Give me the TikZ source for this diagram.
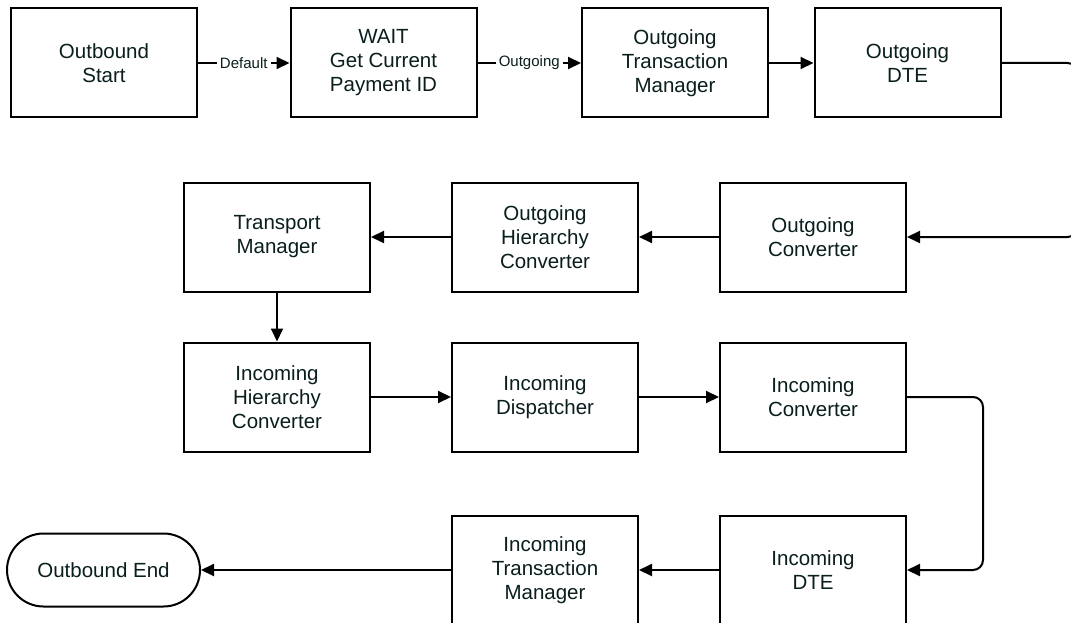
\documentclass[tikz,border=0pt]{standalone}
\usepackage{fontspec}
\setmainfont{Liberation Sans}
\usetikzlibrary{arrows.meta}
\definecolor{txt}{HTML}{0A1E1E}
\begin{document}
\begin{tikzpicture}[x=1pt,y=-1pt,
  stepbox/.style={draw=black, line width=2pt, minimum width=186pt, minimum height=109pt,
    inner sep=0pt, align=center, text=txt, font=\fontsize{20.5}{24}\selectfont},
  endbox/.style={stepbox, minimum width=193pt, minimum height=73pt, rounded corners=36.5pt},
  flow/.style={draw=black, line width=2pt, -{Triangle[length=13pt,width=12pt]}},
  lbl/.style={fill=white, inner xsep=3pt, inner ysep=1pt, text=txt, font=\fontsize{15}{18}\selectfont}]
\clip (0,0) rectangle (1071,623);
\fill[white] (0,0) rectangle (1071,623);

% first row
\node[stepbox] (ostart) at (104,63) {Outbound\\Start};
\node[stepbox] (wait) at (383.5,63) {WAIT\\Get Current\\Payment ID};
\node[stepbox] (otm) at (675,63) {Outgoing\\Transaction\\Manager};
\node[stepbox] (odte) at (907.5,63) {Outgoing\\DTE};

% second row
\node[stepbox] (oconv) at (813,237) {Outgoing\\Converter};
\node[stepbox] (ohier) at (545,237) {Outgoing\\Hierarchy\\Converter};
\node[stepbox] (tman) at (277,237) {Transport\\Manager};

% third row
\node[stepbox] (ihier) at (277,397) {Incoming\\Hierarchy\\Converter};
\node[stepbox] (idisp) at (545,397) {Incoming\\Dispatcher};
\node[stepbox] (iconv) at (813,397) {Incoming\\Converter};

% fourth row
\node[stepbox] (idte) at (813,570) {Incoming\\DTE};
\node[stepbox] (itm) at (545,570) {Incoming\\Transaction\\Manager};
\node[endbox] (oend) at (103.5,570) {Outbound End};

% connectors
\draw[flow] (ostart) -- node[lbl] {Default} (wait);
\draw[flow] (wait) -- node[lbl] {Outgoing} (otm);
\draw[flow] (otm) -- (odte);
\draw[flow, rounded corners=10pt] (odte.east) -- ++(76,0) |- (oconv.east);
\draw[flow] (oconv) -- (ohier);
\draw[flow] (ohier) -- (tman);
\draw[flow] (tman) -- (ihier);
\draw[flow] (ihier) -- (idisp);
\draw[flow] (idisp) -- (iconv);
\draw[flow, rounded corners=10pt] (iconv.east) -- ++(76,0) |- (idte.east);
\draw[flow] (idte) -- (itm);
\draw[flow] (itm) -- (oend);
\end{tikzpicture}
\end{document}
